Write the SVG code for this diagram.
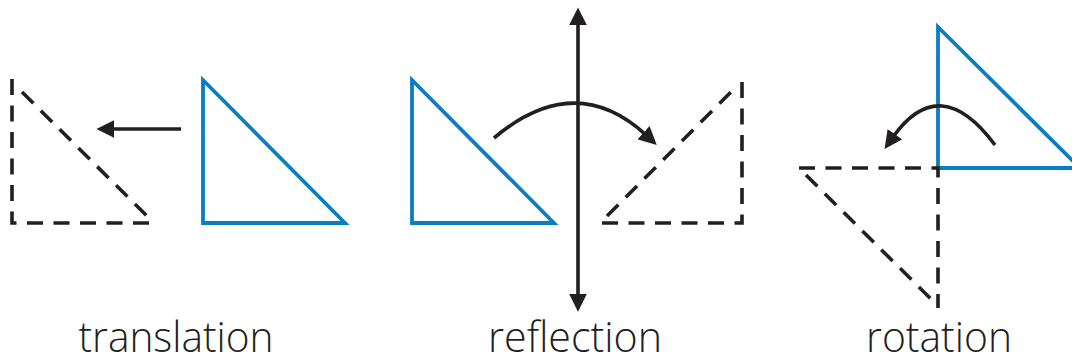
<svg xmlns="http://www.w3.org/2000/svg" width="1072" height="358" viewBox="0 0 1072 358">
<style>
.blue{fill:none;stroke:#0A7EC2;stroke-width:3.8;stroke-linejoin:miter}
.dash{fill:none;stroke:#231F20;stroke-width:3.6;stroke-dasharray:16 10.5}
.arr{fill:none;stroke:#231F20;stroke-width:3.6}
.lbl{font-family:"Open Sans","Liberation Sans",sans-serif;font-weight:300;font-size:42px;fill:#231F20;text-anchor:middle}
</style>
<defs>
<marker id="ah" markerUnits="userSpaceOnUse" markerWidth="18" markerHeight="18" viewBox="0 0 16 16" refX="3" refY="8" orient="auto-start-reverse">
<path d="M0,0 L16,8 L0,16 Z" fill="#231F20"/>
</marker>
</defs>
<rect width="1072" height="358" fill="#FFFFFF"/>
<g id="translation-image">
<path class="dash" d="M12,79 L12,223 L153,223"/>
<path class="dash" d="M22,92 L147,216"/>
</g>
<g id="translation-original">
<path class="blue" d="M203,80 L203,223 L345,223 Z"/>
</g>
<g id="reflection-original">
<path class="blue" d="M412,80 L412,223 L554,223 Z"/>
</g>
<g id="reflection-image">
<path class="dash" d="M602,223 L742,223 L742,80"/>
<path class="dash" d="M607,216 L733,90"/>
</g>
<g id="rotation-original">
<path class="blue" d="M938,27 L938,168 L1080,168 Z"/>
</g>
<g id="rotation-image">
<path class="dash" d="M799,168 L938,168 L938,308"/>
<path class="dash" d="M806,175 L932,300"/>
</g>
<g id="connectors">
<path class="arr" d="M181,129 L111,129" marker-end="url(#ah)"/>
<path class="arr" d="M578,297 L578,22" marker-start="url(#ah)" marker-end="url(#ah)"/>
<path class="arr" d="M494,138 Q575,70 646,135" marker-end="url(#ah)"/>
<path class="arr" d="M995,145 Q940,71 893,137" marker-end="url(#ah)"/>
</g>
<g id="labels">
<text class="lbl" x="176" y="352" textLength="195" lengthAdjust="spacingAndGlyphs">translation</text>
<text class="lbl" x="575" y="352" textLength="174" lengthAdjust="spacingAndGlyphs">reflection</text>
<text class="lbl" x="939" y="352" textLength="146" lengthAdjust="spacingAndGlyphs">rotation</text>
</g>
</svg>
